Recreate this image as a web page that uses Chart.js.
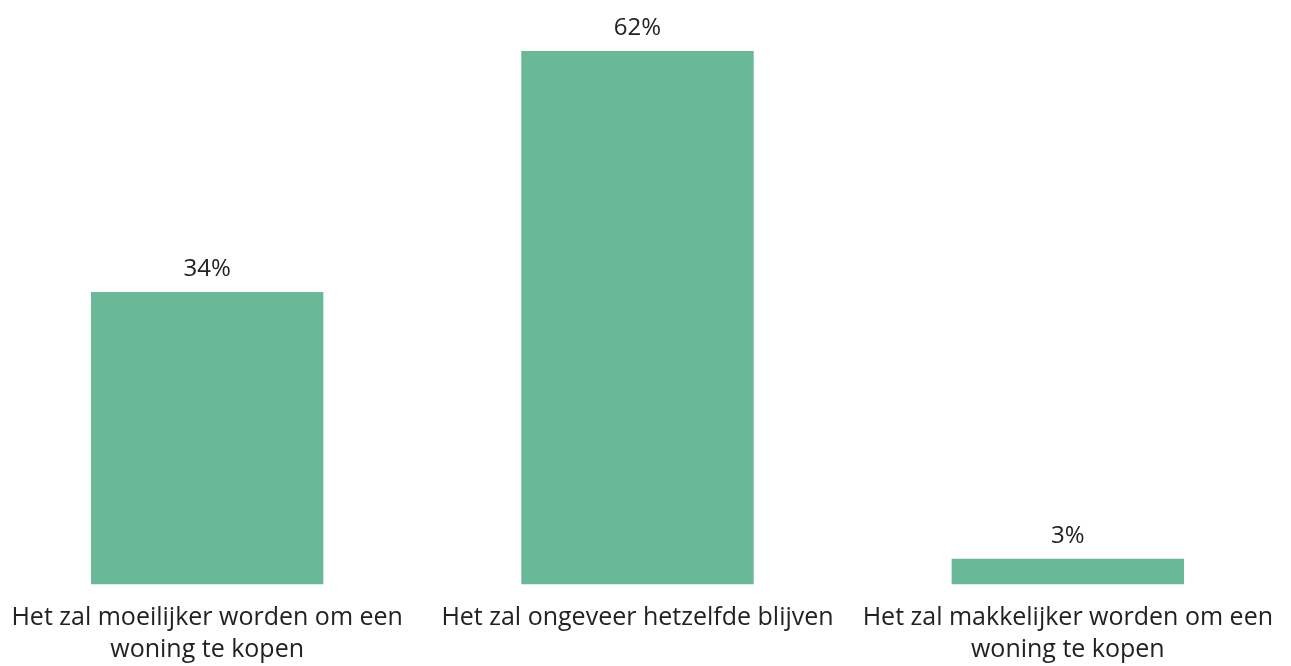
<!DOCTYPE html>
<html>
<head>
<meta charset="utf-8">
<script src="https://cdn.jsdelivr.net/npm/chart.js@4/dist/chart.umd.min.js"></script>
<style>
  html, body { margin: 0; padding: 0; background: #fff; overflow: hidden; }
  #wrap { position: absolute; left: -8px; top: 0; width: 1291px; height: 666px; }
</style>
</head>
<body>
<div id="wrap"><canvas id="chart"></canvas></div>
<script>
  const categories = [
    ["Het zal moeilijker worden om een", "woning te kopen"],
    "Het zal ongeveer hetzelfde blijven",
    ["Het zal makkelijker worden om een", "woning te kopen"],
  ];
  const values = [34, 62, 3];
  const valueLabels = ["34%", "62%", "3%"];

  const FONT = "'Open Sans', sans-serif";

  const valueLabelPlugin = {
    id: "valueLabels",
    afterDatasetsDraw(chart) {
      const ctx = chart.ctx;
      const meta = chart.getDatasetMeta(0);
      ctx.save();
      ctx.font = "24px " + FONT;
      ctx.fillStyle = "#222";
      ctx.textAlign = "center";
      ctx.textBaseline = "bottom";
      meta.data.forEach((bar, i) => {
        ctx.fillText(valueLabels[i], bar.x, bar.y - 11);
      });
      ctx.restore();
    },
  };

  new Chart(document.getElementById("chart"), {
    type: "bar",
    data: {
      labels: categories,
      datasets: [
        {
          data: values,
          backgroundColor: "#69b998",
          categoryPercentage: 1,
          barPercentage: 0.54,
        },
      ],
    },
    options: {
      responsive: true,
      maintainAspectRatio: false,
      animation: false,
      layout: { padding: { top: 51, left: 0, right: 0, bottom: -17 } },
      plugins: { legend: { display: false }, tooltip: { enabled: false } },
      scales: {
        y: { display: false, min: 0, max: 62 },
        x: {
          grid: { display: false, drawTicks: false },
          border: { display: false },
          afterFit(scale) {
            // labels are allowed to run to the edges
            scale.paddingLeft = 0;
            scale.paddingRight = 0;
          },
          ticks: {
            color: "#222",
            font: { family: FONT, size: 25, lineHeight: 1.25 },
            padding: 18,
            maxRotation: 0,
            autoSkip: false,
          },
        },
      },
    },
    plugins: [valueLabelPlugin],
  });
</script>
</body>
</html>
